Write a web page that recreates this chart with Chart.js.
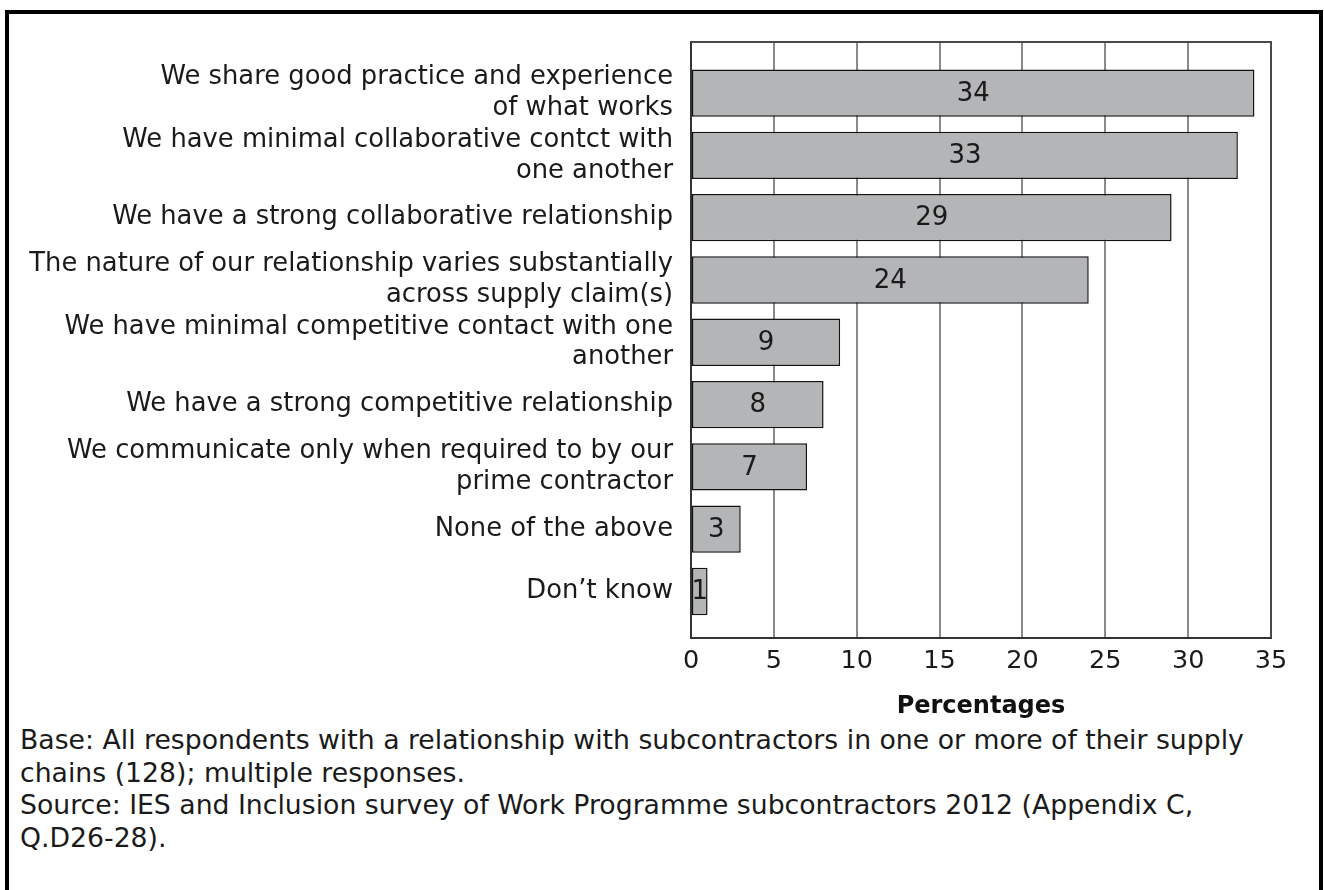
<!DOCTYPE html>
<html>
<head>
<meta charset="utf-8">
<script src="https://cdn.jsdelivr.net/npm/chart.js@4/dist/chart.umd.min.js"></script>
<style>
  html, body { margin: 0; padding: 0; background: #fff; }
  body { width: 1324px; height: 890px; position: relative; overflow: hidden; font-family: "DejaVu Sans", sans-serif; }
  #frame { position: absolute; left: 5px; top: 10px; width: 1318px; height: 900px; box-sizing: border-box; border: 4px solid #000; pointer-events: none; }
  #wrap { position: absolute; left: 0; top: 0; width: 1324px; height: 721px; }
  #note { position: absolute; left: 20px; top: 724px; font-size: 26.7px; line-height: 32.5px; color: #1a1a1a; white-space: nowrap; }
</style>
</head>
<body>
<div id="wrap"><canvas id="chart"></canvas></div>
<div id="note">Base: All respondents with a relationship with subcontractors in one or more of their supply<br>chains (128); multiple responses.<br>Source: IES and Inclusion survey of Work Programme subcontractors 2012 (Appendix C,<br>Q.D26-28).</div>
<div id="frame"></div>
<script>
  // Responses (label lines) and share of respondents, in %
  const categories = [
    ['We share good practice and experience', 'of what works'],
    ['We have minimal collaborative contct with', 'one another'],
    ['We have a strong collaborative relationship'],
    ['The nature of our relationship varies substantially', 'across supply claim(s)'],
    ['We have minimal competitive contact with one', 'another'],
    ['We have a strong competitive relationship'],
    ['We communicate only when required to by our', 'prime contractor'],
    ['None of the above'],
    ['Don\u2019t know']
  ];
  const percentages = [34, 33, 29, 24, 9, 8, 7, 3, 1];
  const xTicks = [0, 5, 10, 15, 20, 25, 30, 35];

  const FONT = '"DejaVu Sans", sans-serif';

  // frame on the top and right of the plot area
  const plotFrame = {
    id: 'plotFrame',
    beforeDatasetsDraw(chart) {
      const { ctx, chartArea: a } = chart;
      ctx.save();
      ctx.strokeStyle = '#4a4a4a';
      ctx.lineWidth = 2;
      ctx.beginPath();
      ctx.moveTo(a.left, a.top);
      ctx.lineTo(a.right, a.top);
      ctx.lineTo(a.right, a.bottom);
      ctx.stroke();
      ctx.restore();
    }
  };

  // value written in the middle of each bar
  const barValues = {
    id: 'barValues',
    afterDatasetsDraw(chart) {
      const { ctx } = chart;
      const meta = chart.getDatasetMeta(0);
      ctx.save();
      ctx.font = '26px ' + FONT;
      ctx.fillStyle = '#1a1a1a';
      ctx.textAlign = 'center';
      ctx.textBaseline = 'middle';
      meta.data.forEach((bar, i) => {
        ctx.fillText(String(percentages[i]), (bar.x + bar.base) / 2, bar.y + 1);
      });
      ctx.restore();
    }
  };

  new Chart(document.getElementById('chart'), {
    type: 'bar',
    data: {
      datasets: [{
        data: percentages.map((v, i) => ({ x: v, y: i })),
        backgroundColor: '#b4b5b7',
        borderColor: '#111',
        borderWidth: 1.5,
        borderSkipped: false,
        categoryPercentage: 1,
        barPercentage: 0.76
      }]
    },
    options: {
      indexAxis: 'y',
      responsive: true,
      maintainAspectRatio: false,
      animation: false,
      layout: { padding: { top: 42, right: 53, left: 0, bottom: 0 } },
      plugins: { legend: { display: false }, tooltip: { enabled: false } },
      scales: {
        x: {
          type: 'linear',
          min: 0,
          max: 35,
          afterBuildTicks: s => { s.ticks = xTicks.map(v => ({ value: v })); },
          grid: { color: '#8a8a8a', lineWidth: 2, drawTicks: false },
          border: { color: '#333', width: 2 },
          ticks: { color: '#1a1a1a', font: { family: FONT, size: 25.5 }, padding: 8 },
          title: {
            display: true,
            text: 'Percentages',
            color: '#111',
            font: { family: FONT, size: 24, weight: 'bold' },
            padding: { top: 8, bottom: 0 }
          }
        },
        y: {
          type: 'linear',
          reverse: true,
          offset: false,
          min: -0.82,
          max: 8.74,
          afterBuildTicks: s => { s.ticks = categories.map((_, i) => ({ value: i })); },
          afterFit: s => { s.width = 691; },
          grid: { display: false, drawTicks: false },
          border: { color: '#333', width: 2 },
          ticks: {
            autoSkip: false,
            color: '#1a1a1a',
            padding: 18,
            font: { family: FONT, size: 25.8, lineHeight: 1.2 },
            callback: v => categories[v]
          }
        }
      }
    },
    plugins: [plotFrame, barValues]
  });
</script>
</body>
</html>
